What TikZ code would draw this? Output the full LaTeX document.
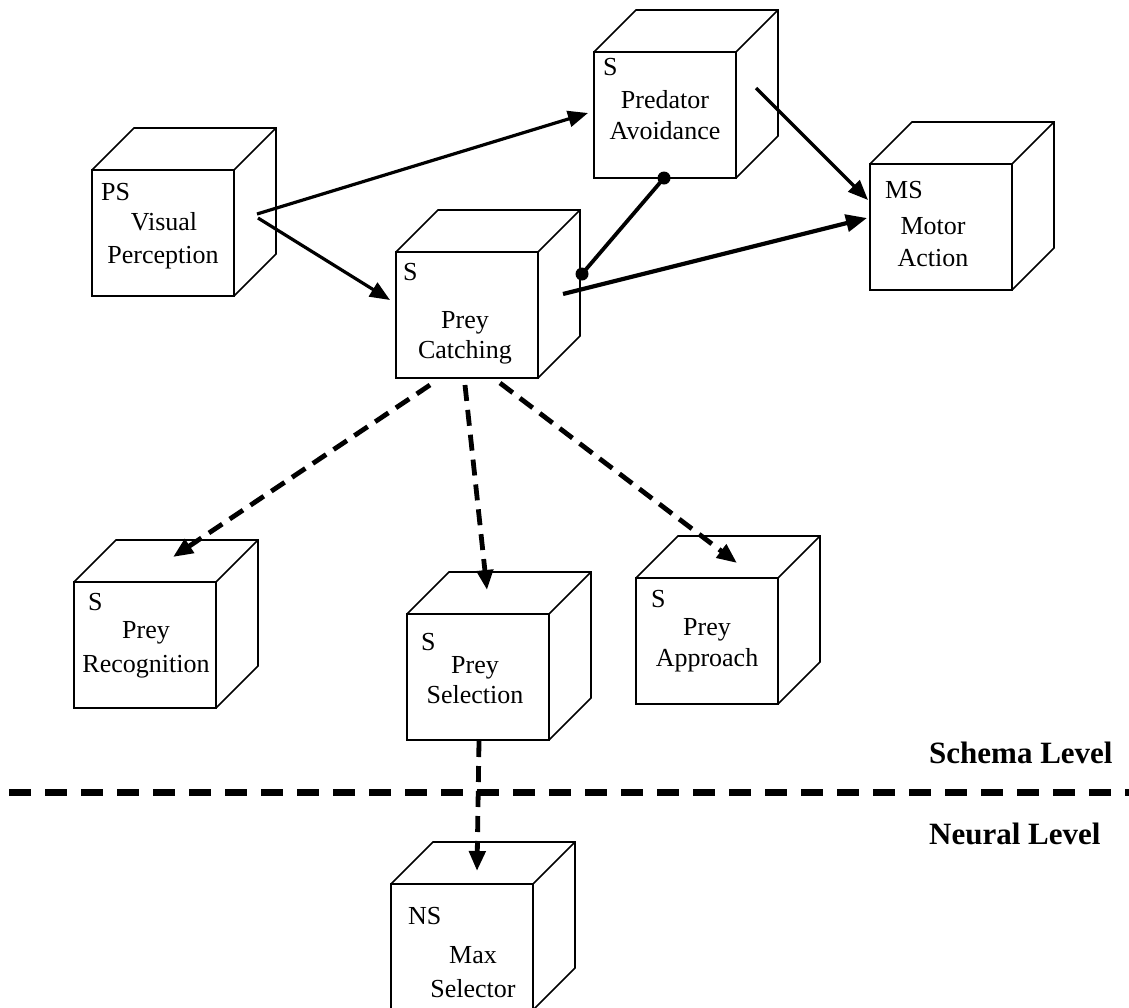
\documentclass[tikz,border=0pt]{standalone}
\usepackage{fontspec}
\setmainfont{Liberation Serif}
\usetikzlibrary{arrows.meta}

% front face of a cube (named node) plus its top and right faces
\newcommand\cubebox[3]{%
  \node[face, anchor=north west] (#1) at (#2,#3) {};
  \draw[edge] (#1.north west) -- ++(42,-42) -- ++(142,0) -- ++(0,126) -- (#1.south east);
  \draw[edge] (#1.north east) -- ++(42,-42);
}

\begin{document}
\begin{tikzpicture}[x=1pt, y=-1pt,
  face/.style={draw, line width=1.7pt, fill=white, minimum width=142, minimum height=126, inner sep=0, outer sep=0},
  edge/.style={line width=1.7pt, line join=miter},
  tag/.style={anchor=base west, inner sep=0, font=\fontsize{26}{30}\selectfont},
  lbl/.style={anchor=base, inner sep=0, font=\fontsize{26}{30}\selectfont},
  level/.style={anchor=base west, inner sep=0, font=\fontsize{31}{36}\selectfont\bfseries},
  tip/.style={-{Triangle[length=20pt, width=16pt]}},
  flow/.style={tip, line width=3.2pt},
  heavyflow/.style={-{Triangle[length=21pt, width=17pt]}, line width=4.2pt},
  refine/.style={tip, line width=4.8pt, dash pattern=on 16pt off 9pt},
  inhibit/.style={line width=3.8pt},
  dot/.style={circle, fill=black, inner sep=0, minimum size=13}
]
\useasboundingbox (0,0) rectangle (1129,1007);

% cubes
\cubebox{vp}{92}{170}
\cubebox{pa}{594}{52}
\cubebox{pc}{396}{252}
\cubebox{ma}{870}{164}
\cubebox{pr}{74}{582}
\cubebox{psel}{407}{614}
\cubebox{pap}{636}{578}
\cubebox{mx}{391}{884}

% cube labels
\node[tag] (vp-t) at (101,200) {PS};
\node[lbl] (vp-a) at (164,230) {Visual};
\node[lbl] (vp-b) at (163,263) {Perception};

\node[tag] (pa-t) at (603,75) {S};
\node[lbl] (pa-a) at (665,108) {Predator};
\node[lbl] (pa-b) at (665,139) {Avoidance};

\node[tag] (pc-t) at (403,280) {S};
\node[lbl] (pc-a) at (465,328) {Prey};
\node[lbl] (pc-b) at (465,358) {Catching};

\node[tag] (ma-t) at (885,198) {MS};
\node[lbl] (ma-a) at (933,234) {Motor};
\node[lbl] (ma-b) at (933,266) {Action};

\node[tag] (pr-t) at (88,610) {S};
\node[lbl] (pr-a) at (146,638) {Prey};
\node[lbl] (pr-b) at (146,672) {Recognition};

\node[tag] (psel-t) at (421,650) {S};
\node[lbl] (psel-a) at (475,673) {Prey};
\node[lbl] (psel-b) at (475,703) {Selection};

\node[tag] (pap-t) at (651,607) {S};
\node[lbl] (pap-a) at (707,635) {Prey};
\node[lbl] (pap-b) at (707,666) {Approach};

\node[tag] (mx-t) at (408,924) {NS};
\node[lbl] (mx-a) at (473,963) {Max};
\node[lbl] (mx-b) at (473,997) {Selector};

% level divider
\coordinate (div-l) at (9,792);
\coordinate (div-r) at (1129,792);
\draw[line width=7pt, dash pattern=on 22pt off 14pt] (div-l) -- (div-r);
\node[level] (schema) at (929,763) {Schema Level};
\node[level] (neural) at (929,844) {Neural Level};

% connector end points
\coordinate (vp-o1) at (257,214);
\coordinate (vp-o2) at (258,218);
\coordinate (pa-i)  at (588,113);
\coordinate (pc-i)  at (390,300);
\coordinate (pa-o)  at (756,88);
\coordinate (ma-i1) at (868,200);
\coordinate (pc-o)  at (563,294);
\coordinate (ma-i2) at (867,218);
\coordinate (pa-d)  at (664,178);
\coordinate (pc-d)  at (582,274);
\coordinate (pc-s1) at (430,385);
\coordinate (pc-s2) at (465,385);
\coordinate (pc-s3) at (500,383);
\coordinate (pr-i)  at (173,557);
\coordinate (psel-i) at (487,590);
\coordinate (pap-i) at (737,563);
\coordinate (psel-o) at (479,741);
\coordinate (mx-i)  at (477,871);

% schema connections
\draw[flow] (vp-o1) -- (pa-i);
\draw[flow] (vp-o2) -- (pc-i);
\draw[flow] (pa-o) -- (ma-i1);
\draw[heavyflow] (pc-o) -- (ma-i2);
\draw[inhibit] (pa-d) -- (pc-d);
\node[dot] (pa-dot) at (pa-d) {};
\node[dot] (pc-dot) at (pc-d) {};

% decomposition into sub-schemas
\draw[refine] (pc-s1) -- (pr-i);
\draw[refine] (pc-s2) -- (psel-i);
\draw[refine] (pc-s3) -- (pap-i);
\draw[refine] (psel-o) -- (mx-i);
\end{tikzpicture}
\end{document}
